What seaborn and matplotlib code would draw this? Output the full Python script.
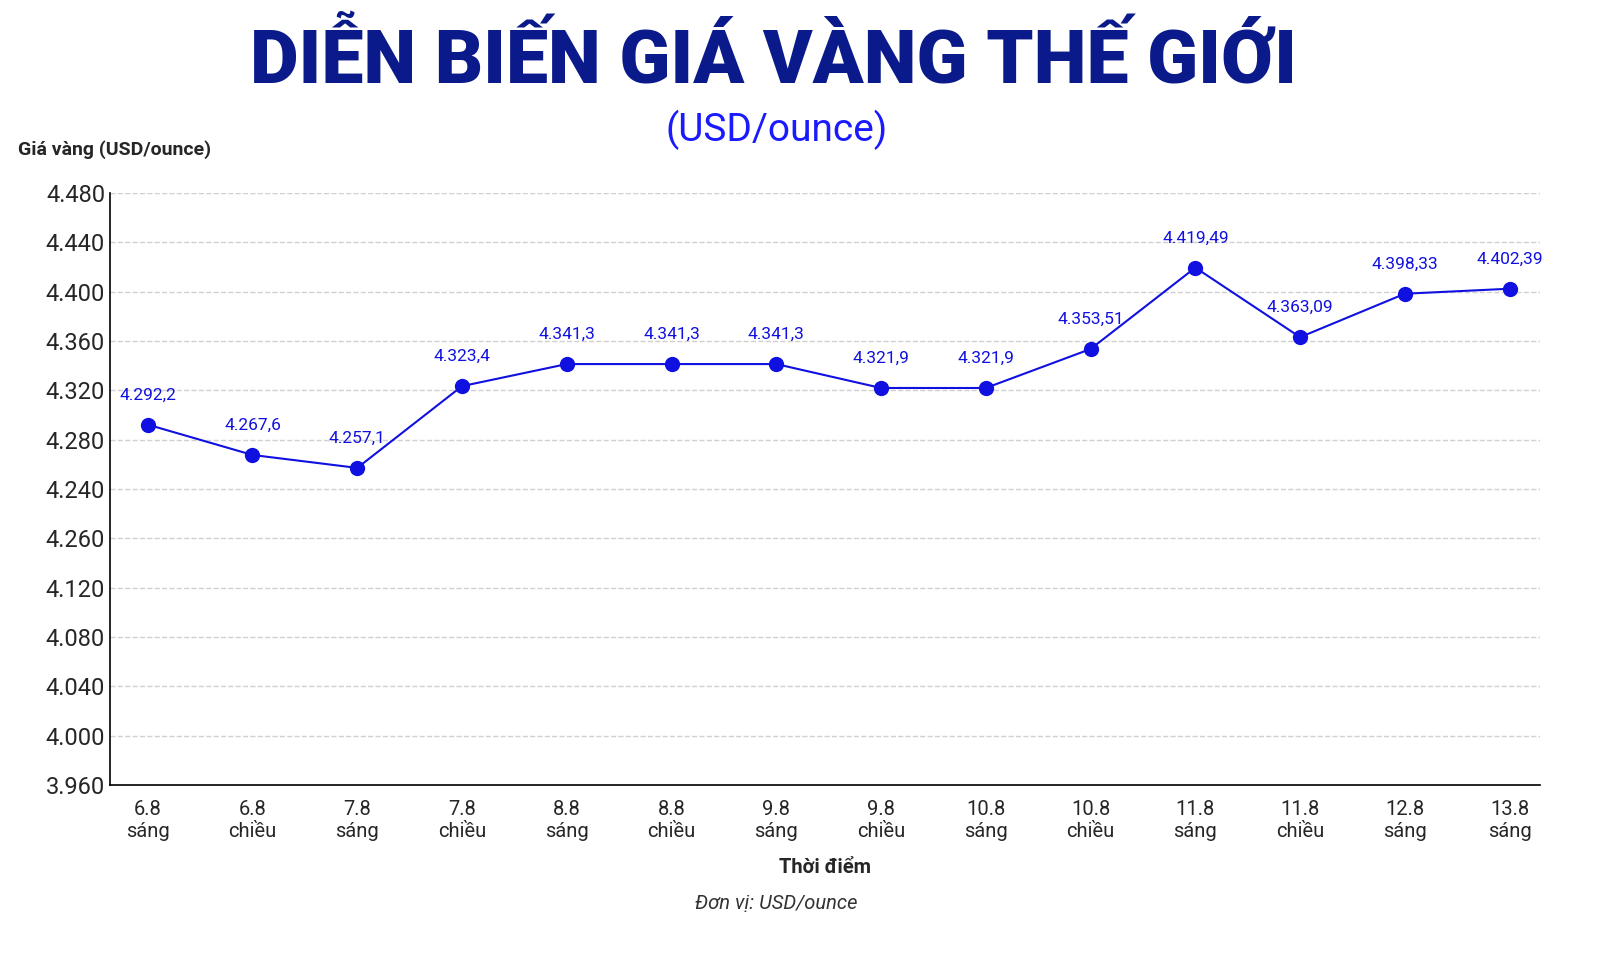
import matplotlib
matplotlib.use("Agg")
import matplotlib.pyplot as plt
import seaborn as sns
import pandas as pd

# data
times = ["6.8\nsáng", "6.8\nchiều", "7.8\nsáng", "7.8\nchiều", "8.8\nsáng", "8.8\nchiều",
         "9.8\nsáng", "9.8\nchiều", "10.8\nsáng", "10.8\nchiều", "11.8\nsáng", "11.8\nchiều",
         "12.8\nsáng", "13.8\nsáng"]
prices = [4292.2, 4267.6, 4257.1, 4323.4, 4341.3, 4341.3, 4341.3, 4321.9, 4321.9,
          4353.51, 4419.49, 4363.09, 4398.33, 4402.39]
labels = ["4.292,2", "4.267,6", "4.257,1", "4.323,4", "4.341,3", "4.341,3", "4.341,3",
          "4.321,9", "4.321,9", "4.353,51", "4.419,49", "4.363,09", "4.398,33", "4.402,39"]
y_ticks = [4000, 4040, 4080, 4120, 4160, 4200, 4240, 4280, 4320, 4360, 4400, 4440, 4480]
y_tick_labels = ["3.960", "4.000", "4.040", "4.080", "4.120", "4.260", "4.240",
                 "4.280", "4.320", "4.360", "4.400", "4.440", "4.480"]

sns.set_style("white")
plt.rcParams["font.family"] = ["Roboto", "DejaVu Sans"]

df = pd.DataFrame({"x": range(len(times)), "price": prices})

fig = plt.figure(figsize=(16.24, 9.69), dpi=100)
ax = fig.add_axes([110 / 1624, 1 - 785 / 969, 1430 / 1624, 592 / 969])
sns.lineplot(data=df, x="x", y="price", ax=ax, color="#1010e0", lw=1.5,
             marker="o", markersize=11, markeredgewidth=0)

for i, (p, t) in enumerate(zip(prices, labels)):
    ax.annotate(t, (i, p), xytext=(0, 16), textcoords="offset points",
                ha="center", va="bottom", fontsize=12.5, color="#1010e0")

ax.set_xlim(-0.36, 13.29)
ax.set_ylim(4000, 4480)
ax.set_yticks(y_ticks)
ax.set_yticklabels(y_tick_labels, fontsize=17)
ax.set_xticks(range(len(times)))
ax.set_xticklabels(times, fontsize=14.5)
ax.tick_params(axis="x", length=5, color="black", pad=6)
ax.tick_params(axis="y", length=0)
ax.yaxis.grid(True, ls="--", color="#d0d0d0", lw=1)
for s in ["top", "right"]:
    ax.spines[s].set_visible(False)
for s in ["left", "bottom"]:
    ax.spines[s].set_color("black")
    ax.spines[s].set_linewidth(1.2)
ax.set_xlabel("Thời điểm", fontsize=14.5, fontweight="bold", labelpad=12)
ax.set_ylabel("")

fig.text(0.476, 1 - 62 / 969, "DIỄN BIẾN GIÁ VÀNG THẾ GIỚI", ha="center", va="center",
         fontsize=54, fontweight="black", color="#0b1a8a", fontstretch="condensed")
fig.text(0.478, 1 - 130 / 969, "(USD/ounce)", ha="center", va="center",
         fontsize=28, color="#1a1aff")
fig.text(18 / 1624, 1 - 150 / 969, "Giá vàng (USD/ounce)", ha="left", va="center",
         fontsize=14, fontweight="bold")
fig.text(0.478, 1 - 904 / 969, "Đơn vị: USD/ounce", ha="center", va="center",
         fontsize=14.5, style="italic", color="#333333")

fig.savefig("out.png", dpi=100)
